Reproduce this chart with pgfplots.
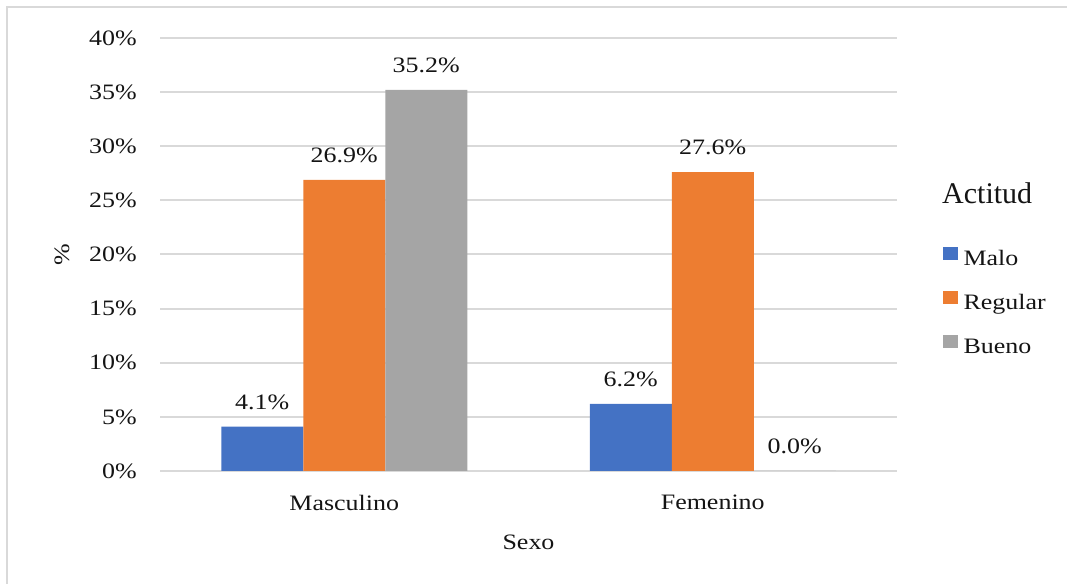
\documentclass[border=0pt]{standalone}
\usepackage{fontspec}
\setmainfont{Liberation Serif}
\newfontfamily\widefont{Liberation Serif}[FakeStretch=1.18]
\usepackage{pgfplots}
\pgfplotsset{compat=1.18}

\definecolor{cMalo}{HTML}{4472C4}
\definecolor{cRegular}{HTML}{ED7D31}
\definecolor{cBueno}{HTML}{A5A5A5}
\definecolor{gridgray}{HTML}{D9D9D9}
\definecolor{txt}{HTML}{141414}

\newcommand\lblfont{\widefont\fontsize{22bp}{26bp}\selectfont}
\newcommand\titlefont{\rmfamily\fontsize{30bp}{36bp}\selectfont}

% Percentages by sex: 0 = Masculino, 1 = Femenino
\usepackage{pgfplotstable}
\pgfplotstableread{
x  malo  regular  bueno
0  4.1   26.9     35.2
1  6.2   27.6     0.0
}\actitud

\begin{document}
\begin{tikzpicture}
\useasboundingbox (0,0) rectangle (1067bp,584bp);
% chart frame
\draw[gridgray, line width=2bp] (7bp,-30bp) rectangle (1100bp,577bp);
\begin{axis}[
  at={(160bp,113bp)}, anchor=south west,
  width=737bp, height=433bp, scale only axis,
  ybar=0pt, bar width=82bp,
  xmin=-0.5, xmax=1.5, ymin=0, ymax=40,
  enlargelimits=false, clip=false,
  xtick={0,1}, xticklabels={Masculino,Femenino},
  ytick={0,5,...,40},
  yticklabels={0\%,5\%,10\%,15\%,20\%,25\%,30\%,35\%,40\%},
  axis line style={draw=none},
  major tick length=0pt, tick style={draw=none},
  ymajorgrids, grid style={gridgray, line width=2bp},
  tick label style={font=\lblfont, text=txt},
  yticklabel style={inner sep=0pt, anchor=east, xshift=-23bp},
  xticklabel style={inner sep=0pt, anchor=north, yshift=-24bp},
  xlabel={Sexo}, ylabel={\%},
  label style={font=\lblfont, text=txt},
  xlabel style={at={(axis description cs:0.5,-0.1824)}, anchor=base, inner sep=0pt},
  ylabel style={at={(axis description cs:-0.133,0.5)}, anchor=center, inner sep=0pt},
  nodes near coords={\pgfmathprintnumber[fixed,fixed zerofill,precision=1,assume math mode=true]{\pgfplotspointmeta}\%},
  every node near coord/.append style={font=\lblfont, text=txt, anchor=base, inner sep=0pt, yshift=17.5bp},
  legend cell align=left,
  legend image code/.code={\fill[#1] (0bp,0bp) rectangle (15bp,13bp);},
  legend style={
    at={(axis description cs:1.0615,0.5173)}, anchor=north west,
    draw=none, fill=none, inner sep=0pt, font=\lblfont, text=txt,
    row sep=20.5bp,
    nodes={inner sep=0pt, text height=16bp, text depth=5bp},
    /tikz/every odd column/.append style={column sep=6bp},
  },
]
\addplot[fill=cMalo, draw=none] table[x=x, y=malo] {\actitud};
\addplot[fill=cRegular, draw=none] table[x=x, y=regular] {\actitud};
\addplot[fill=cBueno, draw=none] table[x=x, y=bueno] {\actitud};
\legend{Malo,Regular,Bueno}
\end{axis}
\node[anchor=base west, inner sep=0pt, font=\titlefont, text=txt] at (942bp,380.7bp) {Actitud};
\end{tikzpicture}
\end{document}
